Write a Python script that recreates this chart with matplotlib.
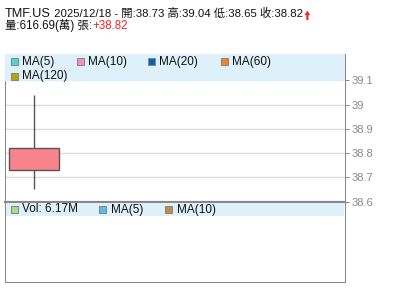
import matplotlib
matplotlib.use('Agg')
import matplotlib.pyplot as plt
from matplotlib.patches import Rectangle, FancyArrow
from matplotlib.transforms import IdentityTransform

# Datos de la vela (un solo día)
ticker = 'TMF.US'
dates = ['2025/12/18']
opens = [38.73]
highs = [39.04]
lows = [38.65]
closes = [38.82]
vol_wan = [616.69]       # volumen en 萬
vol_label = '6.17M'
change = [38.82]

price_ticks = [38.6, 38.7, 38.8, 38.9, 39.0, 39.1]
price_tick_labels = ['38.6', '38.7', '38.8', '38.9', '39', '39.1']

ma_labels = ['MA(5)', 'MA(10)', 'MA(20)', 'MA(60)', 'MA(120)']
ma_colors = ['#4dd6d0', '#f78fbe', '#0a63b5', '#f58220', '#b5a600']
vol_labels = ['Vol: ' + vol_label, 'MA(5)', 'MA(10)']
vol_colors = ['#a3e08a', '#53c1f0', '#c48c44']

W, H = 400, 301
FONT = ['Liberation Sans', 'Noto Sans CJK TC', 'DejaVu Sans']
GRAY = '#888888'
BAND = '#def0fa'
RED = '#ff2020'


def fx(px):
    return px / W


def fy(py):
    return 1 - py / H


fig = plt.figure(figsize=(W / 100, H / 100), dpi=100)
fig.patch.set_facecolor('white')

# paneles: precio arriba, volumen abajo
top, mid, bot = 54, 201.5, 282.3
ax = fig.add_axes([fx(5), fy(mid), fx(340), (mid - top) / H])
axv = fig.add_axes([fx(5), fy(bot), fx(340), (bot - mid) / H])

# velas
for i in range(len(dates)):
    ax.vlines(i, lows[i], highs[i], color='#555555', lw=1, zorder=2)
    ax.bar(i, closes[i] - opens[i], bottom=opens[i], width=0.8,
           color='#f9838b', edgecolor='#555555', lw=1, zorder=3)

ax.set_xlim(-0.456, 4.984)
ax.set_ylim(38.6, 39.209)
ax.set_yticks(price_ticks)
ax.set_yticklabels(price_tick_labels)
ax.yaxis.tick_right()
ax.tick_params(axis='y', direction='out', length=3, width=0.75, color=GRAY,
               labelcolor=GRAY, labelsize=8, pad=1.5)
for lab in ax.get_yticklabels():
    lab.set_family(FONT)
ax.set_xticks([])
ax.grid(axis='y', color='#dddddd', lw=1, zorder=1)

axv.set_xlim(-0.456, 4.984)
axv.set_xticks([])
axv.set_yticks([])

for a in (ax, axv):
    for s in a.spines.values():
        s.set_color(GRAY)
        s.set_linewidth(0.75)
ax.spines['bottom'].set_linewidth(1.5)
axv.spines['top'].set_linewidth(1.5)

# bandas de leyenda
hb = (81 - top) / (mid - top)
ax.add_patch(Rectangle((0, 1 - hb), 1, hb, transform=ax.transAxes,
                       facecolor=BAND, edgecolor='none', zorder=4))
hv = (216 - mid - 1.3) / (bot - mid)
axv.add_patch(Rectangle((0.002, 1 - hv - 1.3 / (bot - mid)), 0.996, hv,
                        transform=axv.transAxes, facecolor=BAND,
                        edgecolor='none', zorder=4))


def legend_item(x, yc, size, gap, label, color):
    fig.add_artist(Rectangle((fx(x), fy(yc + size / 2)), size / W, size / H,
                             transform=fig.transFigure, facecolor=color,
                             edgecolor=GRAY, lw=0.75, zorder=5))
    fig.text(fx(x + gap), fy(yc), label, fontsize=8.5, family=FONT,
             color='#111111', va='center', ha='left', zorder=6)


ma_x = [10.7, 76.7, 148.3, 220.7, 10.7]
ma_y = [61.7, 61.7, 61.7, 61.7, 76.2]
for lab, col, x, y in zip(ma_labels, ma_colors, ma_x, ma_y):
    legend_item(x, y, 7, 11, lab, col)

vol_x = [10.7, 99.3, 165.3]
for lab, col, x in zip(vol_labels, vol_colors, vol_x):
    legend_item(x, 209.5, 7, 11.3, lab, col)

# cabecera
renderer = fig.canvas.get_renderer()


def chain(x0, y0, parts):
    x = fx(x0)
    for s, size, color in parts:
        t = fig.text(x, fy(y0), s, fontsize=size, color=color, family=FONT,
                     va='baseline', ha='left')
        x = t.get_window_extent(renderer).x1 / W
    return x * W


line1 = (f' {dates[0]} - 開:{opens[0]:.2f} 高:{highs[0]:.2f} '
         f'低:{lows[0]:.2f} 收:{closes[0]:.2f}')
xe = chain(5, 17.3, [(ticker, 9.2, '#111111'),
                     (line1, 8.2, '#111111')])
# flecha roja de subida
fig.add_artist(FancyArrow(xe + 4.5, 0.5 + H - 20.5, 0, 9.5, width=2.2,
                          head_width=5.5, head_length=4.5,
                          length_includes_head=True, color=RED, lw=0,
                          transform=IdentityTransform()))
chain(5, 29, [(f'量:{vol_wan[0]:.2f}(萬) 張:', 8.3, '#111111'),
              (f'+{change[0]:.2f}', 8.3, RED)])

fig.savefig('out.png', dpi=100)
